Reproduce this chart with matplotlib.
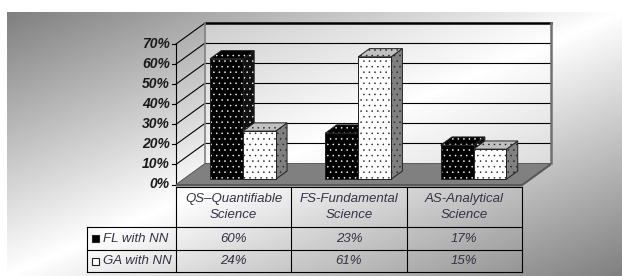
import numpy as np
import matplotlib
matplotlib.use('Agg')
import matplotlib.pyplot as plt
from matplotlib.patches import Polygon, Rectangle
import matplotlib.transforms as mtransforms

# data
categories = ['QS–Quantifiable\nScience', 'FS-Fundamental\nScience', 'AS-Analytical\nScience']
series = ['FL with NN', 'GA with NN']
fl_nn = [60, 23, 17]
ga_nn = [24, 61, 15]
yticks = [0, 10, 20, 30, 40, 50, 60, 70]

plt.rcParams['font.family'] = ['Liberation Sans', 'DejaVu Sans']
plt.rcParams['hatch.linewidth'] = 0.35

W, H = 622, 276
fig = plt.figure(figsize=(W / 100, H / 100), dpi=100)

# gradient backdrop (dark corners, white diagonal)
bg = fig.add_axes([0, 0, 1, 1], zorder=0)
gx, gy = np.meshgrid(np.linspace(0, 1, 400), np.linspace(0, 1, 200))
shade = 1 - 0.5 * np.abs(gx + gy - 1)
bg.imshow(shade, cmap='gray', vmin=0, vmax=1, extent=(7, W, H, 12),
          aspect='auto', interpolation='bilinear')
bg.set_xlim(0, W)
bg.set_ylim(H, 0)
bg.axis('off')

# front plane of the 3d box
L, R, Y0, Y70 = 176, 522, 184.5, 44
ax = fig.add_axes([L / W, 1 - Y0 / H, (R - L) / W, (Y0 - Y70) / H], zorder=1)
ax.set_xlim(-0.5, 2.5)
ax.set_ylim(0, 70)
ax.axis('off')

p0 = ax.transData.transform((0, 0))
p1 = ax.transData.transform((1, 1))
sx, sy = p1 - p0


def depth(f):
    # depth offset (29px right, 21px up for full depth) in data units
    return 29 * f / sx, 21 * f / sy


dx, dy = depth(1)
x_lo, x_hi = -0.5, 2.5

# back wall
ax.add_patch(Polygon([(x_lo + dx, dy), (x_hi + dx, dy), (x_hi + dx, 70 + dy), (x_lo + dx, 70 + dy)],
                     facecolor='white', alpha=0.4, edgecolor='none', clip_on=False, zorder=1))

# floor with a little thickness
th = 2 / sy
ax.add_patch(Polygon([(x_lo, -th), (x_hi, -th), (x_hi + dx, dy - th), (x_hi + dx, dy), (x_lo + dx, dy), (x_lo, 0)],
                     facecolor='#5c5c5c', edgecolor='none', clip_on=False, zorder=2))
ax.add_patch(Polygon([(x_lo, 0), (x_hi, 0), (x_hi + dx, dy), (x_lo + dx, dy)],
                     facecolor='#808080', edgecolor='#555555', lw=0.6, clip_on=False, zorder=2))

# gridlines, side-wall diagonals, ticks and labels
lab_tr = mtransforms.offset_copy(ax.transData, fig=fig, x=-6, y=0, units='dots')
for v in yticks:
    if v > 0:
        ax.plot([x_lo + dx, x_hi + dx], [v + dy, v + dy], color='black',
                lw=1.8 if v == 70 else 0.8, clip_on=False, zorder=1.5)
        ax.plot([x_lo, x_lo + dx], [v, v + dy], color='black', lw=0.8, clip_on=False, zorder=1.5)
    ax.plot([x_lo - 4 / sx, x_lo], [v, v], color='black', lw=0.8, clip_on=False, zorder=1.5)
    ax.text(x_lo, v, f'{v}%', transform=lab_tr, ha='right', va='center', fontsize=10,
            fontweight='bold', fontstyle='italic', color='#1a1a1a')

ax.plot([x_lo, x_lo], [0, 70], color='black', lw=0.8, clip_on=False, zorder=1.5)
ax.plot([x_lo + dx, x_lo + dx], [dy, 70 + dy], color='#808080', lw=1.2, clip_on=False, zorder=1.5)
ax.plot([x_hi + dx, x_hi + dx], [dy, 70 + dy], color='#707070', lw=1.8, clip_on=False, zorder=1.5)

# 3d bars
f0, fb = 0.25, 0.39
bar_w = 0.285
offsets = [-0.268, 0.017]
styles = [
    dict(front='black', top='black', side='#111111', dots='white'),
    dict(front='white', top='#c0c0c0', side='#808080', dots='#222222'),
]
ox, oy = depth(f0)
bx, by = depth(fb)
z = 3
for i in range(len(categories)):
    for s, vals in enumerate([fl_nn, ga_nn]):
        v = vals[i]
        st = styles[s]
        x0 = i + offsets[s] + ox
        x1 = x0 + bar_w
        faces = [
            ([(x1, oy), (x1 + bx, oy + by), (x1 + bx, v + oy + by), (x1, v + oy)], st['side']),
            ([(x0, v + oy), (x1, v + oy), (x1 + bx, v + oy + by), (x0 + bx, v + oy + by)], st['top']),
            ([(x0, oy), (x1, oy), (x1, v + oy), (x0, v + oy)], st['front']),
        ]
        for pts, fc in faces:
            ax.add_patch(Polygon(pts, facecolor=fc, edgecolor=st['dots'], hatch='...', lw=0,
                                 clip_on=False, zorder=z))
            ax.add_patch(Polygon(pts, fill=False, edgecolor='#222222', lw=0.7, clip_on=False, zorder=z))
            z += 0.01

# data table under the plot
T0, rows = 186.5, [226.7, 249.5, 271.7]
tb = fig.add_axes([L / W, 1 - rows[-1] / H, (R - L) / W, (rows[-1] - T0) / H], zorder=2)
tb.set_xlim(-0.5, 2.5)
tb.set_ylim(rows[-1], T0)
tb.axis('off')
leg_x = -0.5 - (L - 87.3) / sx
txt_col = '#333344'

tb.plot([x_lo, x_hi], [T0, T0], color='black', lw=0.8, clip_on=False)
for y in rows:
    tb.plot([leg_x, x_hi], [y, y], color='black', lw=0.8, clip_on=False)
for x in [-0.5, 0.5, 1.5, 2.5]:
    tb.plot([x, x], [T0, rows[-1]], color='black', lw=0.8, clip_on=False)
tb.plot([leg_x, leg_x], [rows[0], rows[-1]], color='black', lw=0.8, clip_on=False)

for i, cat in enumerate(categories):
    tb.text(i, (T0 + rows[0]) / 2 + 0.5, cat, ha='center', va='center', fontsize=9.5,
            fontstyle='italic', color=txt_col, linespacing=1.45)

key_fc = ['black', 'white']
for s, vals in enumerate([fl_nn, ga_nn]):
    yc = (rows[s] + rows[s + 1]) / 2
    tb.add_patch(Rectangle((leg_x + 4.4 / sx, yc - 2.8), 7 / sx, 7, facecolor=key_fc[s],
                           edgecolor='#222222', lw=0.8, clip_on=False))
    tb.text(leg_x + 15.4 / sx, yc + 0.8, series[s], ha='left', va='center', fontsize=9.5,
            fontstyle='italic', color=txt_col)
    for i, v in enumerate(vals):
        tb.text(i, yc + 0.5, f'{v}%', ha='center', va='center', fontsize=9.5,
                fontstyle='italic', color=txt_col)

fig.savefig('out.png', dpi=100)
